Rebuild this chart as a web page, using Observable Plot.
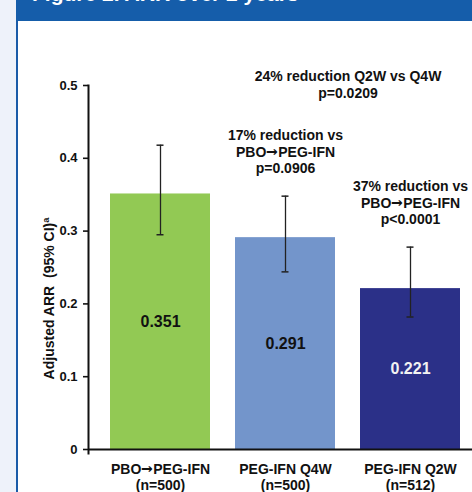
<!DOCTYPE html>
<html>
<head>
<meta charset="utf-8">
<script src="https://cdn.jsdelivr.net/npm/d3@7"></script>
<script src="https://cdn.jsdelivr.net/npm/@observablehq/plot@0.6"></script>
<style>
  @font-face { font-family: "ArrowFix"; src: local("DejaVu Sans Bold"), local("DejaVuSans-Bold"); font-weight: bold; unicode-range: U+2192; }
  @font-face { font-family: "ArrowFix"; src: local("DejaVu Sans"), local("DejaVuSans"); font-weight: normal; unicode-range: U+2192; }
  html, body { margin: 0; padding: 0; background: #ffffff; }
  body { position: relative; width: 472px; height: 492px; overflow: hidden; font-family: "Liberation Sans", Arial, sans-serif; }
  #strip { position: absolute; left: 0; top: 0; width: 16px; height: 492px; background: #eef2fa; }
  #border { position: absolute; left: 16px; top: 0; width: 2px; height: 492px; background: #1a5ba8; }
  #header { position: absolute; left: 16px; top: 0; width: 456px; height: 20.5px; background: #155daa; overflow: hidden; }
  #title { position: absolute; left: 16px; top: -17px; font-size: 21px; line-height: 21px; font-weight: bold; color: #ffffff; white-space: nowrap; }
  #chart { position: absolute; left: 0; top: 0; }
</style>
</head>
<body>
<div id="strip"></div>
<div id="border"></div>
<div id="header"><div id="title">Figure 2. ARR over 2 years</div></div>
<div id="chart"></div>
<script>
const categories = ["PBO→PEG-IFN", "PEG-IFN Q4W", "PEG-IFN Q2W"];
const sampleSizes = ["(n=500)", "(n=500)", "(n=512)"];
const arrValues = [0.351, 0.291, 0.221];
const ciLow = [0.295, 0.244, 0.182];
const ciHigh = [0.418, 0.348, 0.278];
const barColors = ["#92c954", "#7395cb", "#2b3088"];
const valueLabelColors = ["#111111", "#111111", "#f2f2f2"];
const comparisonNotes = ["", "17% reduction vs\nPBO→PEG-IFN\np=0.0906", "37% reduction vs\nPBO→PEG-IFN\np<0.0001"];
const topNote = "24% reduction Q2W vs Q4W\np=0.0209";
const yTicks = [0, 0.1, 0.2, 0.3, 0.4, 0.5];
const yLabel = "Adjusted ARR  (95% CI)ª";

const data = categories.map((cat, i) => ({
  cat, n: sampleSizes[i], arr: arrValues[i], lo: ciLow[i], hi: ciHigh[i],
  labelColor: valueLabelColors[i], note: comparisonNotes[i]
}));

const font = "ArrowFix, 'Liberation Sans', Arial, sans-serif";

const chart = Plot.plot({
  width: 472,
  height: 492,
  marginLeft: 88,
  marginRight: 0,
  marginTop: 85,
  marginBottom: 39,
  style: { background: "transparent", fontFamily: font, color: "#111" },
  x: { domain: categories, range: [88, 482], paddingInner: 0.2, paddingOuter: 0.176, axis: null },
  y: { domain: [0, 0.5], range: [449, 85], axis: null },
  color: { domain: categories, range: barColors },
  marks: [
    Plot.barY(data, { x: "cat", y: "arr", fill: "cat" }),
    Plot.ruleX(data, { x: "cat", y1: "lo", y2: "hi", stroke: "#222", strokeWidth: 1.3 }),
    Plot.tickY(data, { x: "cat", y: "hi", stroke: "#222", strokeWidth: 1.5, inset: 46.5 }),
    Plot.tickY(data, { x: "cat", y: "lo", stroke: "#222", strokeWidth: 1.5, inset: 46.5 }),
    Plot.text(data, { filter: d => d.labelColor !== "#f2f2f2", x: "cat", y: d => d.arr / 2, text: d => d.arr.toFixed(3), fill: "#111111", fontSize: 16, fontWeight: "bold" }),
    Plot.text(data, { filter: d => d.labelColor === "#f2f2f2", x: "cat", y: d => d.arr / 2, text: d => d.arr.toFixed(3), fill: "#f2f2f2", fontSize: 16, fontWeight: "bold" }),
    Plot.text(data, { filter: d => d.note, x: "cat", y: "hi", text: "note", lineAnchor: "bottom", dy: -23, fontSize: 14, fontWeight: "bold", lineHeight: 1.18, fill: "#111" }),
    Plot.text([topNote], { x: () => categories[2], text: d => d, frameAnchor: "top", lineAnchor: "bottom", dx: -62.5, dy: 12, fontSize: 14, fontWeight: "bold", lineHeight: 1.2, fill: "#111" }),
    Plot.text(data, { x: "cat", text: d => d.cat + "\n" + d.n, frameAnchor: "bottom", lineAnchor: "top", dy: 9, fontSize: 14, fontWeight: "bold", lineHeight: 1.15, fill: "#111" }),
    Plot.axisY({ ticks: yTicks, tickFormat: d => d === 0 ? "0" : d.toFixed(1), tickSize: 5, tickPadding: 6, strokeWidth: 1.6, fontSize: 13, fontWeight: "bold", label: null, stroke: "#111", fill: "#111" }),
    Plot.frame({ anchor: "left", stroke: "#111", strokeWidth: 2 }),
    Plot.ruleY([0], { stroke: "#111", strokeWidth: 2 }),
    Plot.text([yLabel], { text: d => d, frameAnchor: "left", textAnchor: "middle", rotate: -90, dx: -39, dy: 29, fontSize: 14, fontWeight: "bold", fill: "#111" })
  ]
});
document.getElementById("chart").appendChild(chart);
</script>
</body>
</html>
